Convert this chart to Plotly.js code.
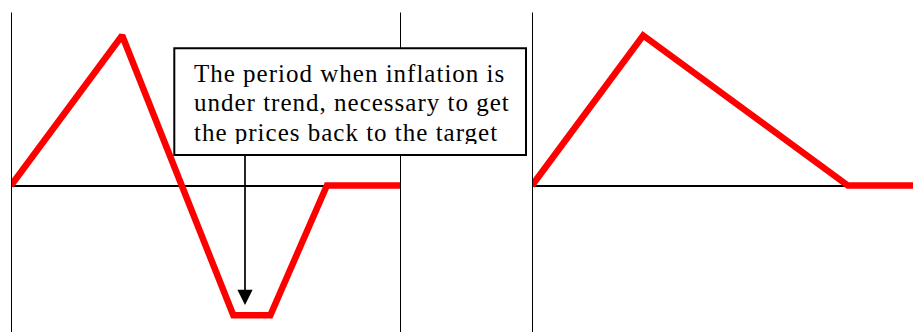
<!DOCTYPE html>
<html>
<head>
<meta charset="utf-8">
<script src="https://cdn.plot.ly/plotly-3.0.1.min.js"></script>
<style>
  html, body { margin: 0; padding: 0; background: #ffffff; }
  #chart { width: 913px; height: 332px; }
  .annotation-text { letter-spacing: 1px; }
</style>
</head>
<body>
<div id="chart"></div>
<script>
// ---- data ----
const leftTime = [0, 2.85, 5.7, 6.65, 8.1, 10];
const leftInflation = [0, 10, -8.65, -8.65, 0, 0];
const rightTime = [0, 2.85, 8.1, 10];
const rightInflation = [0, 10, 0, 0];
const noteLines = [
  "The period when inflation is",
  "under trend, necessary to get",
  "the prices back to the target"
];
const arrowTime = 6.0;
const arrowValue = -7.97;

// ---- layout helpers (pixel -> paper) ----
const W = 913, H = 332;
const px = v => v / W;
const py = v => 1 - v / H;

const yRange = [-(H - 185.5) / 15, 185.5 / 15];
const lineStyle = { color: '#ff0000', width: 6.5 };

const traces = [
  { x: leftTime, y: leftInflation, xaxis: 'x', yaxis: 'y', mode: 'lines',
    line: lineStyle, hoverinfo: 'skip', showlegend: false },
  { x: rightTime, y: rightInflation, xaxis: 'x2', yaxis: 'y2', mode: 'lines',
    line: lineStyle, hoverinfo: 'skip', showlegend: false }
];

const axisCommon = { showgrid: false, showticklabels: false, ticks: '', showline: false, fixedrange: true };

const textFont = { family: 'Liberation Serif, Times New Roman, serif', size: 25, color: '#000000' };
const baseTops = [59.7, 89.2, 118.9];

const annotations = noteLines.map((t, i) => {
  const a = {
    xref: 'paper', yref: 'paper', x: px(194), y: py(baseTops[i]),
    xanchor: 'left', yanchor: 'top', align: 'left', valign: 'top',
    text: t, showarrow: false, font: textFont, borderpad: 0, borderwidth: 0
  };
  if (i === 2) { a.height = 24.9; }
  return a;
});
annotations.push({
  xref: 'x', yref: 'y', x: arrowTime, y: arrowValue, ax: 0, ay: -150,
  text: ' ', font: { size: 1 }, borderpad: 0, showarrow: true,
  arrowhead: 2, arrowsize: 1.8, arrowwidth: 1.7, arrowcolor: '#000000', standoff: 0
});

const blk = { color: '#000000', width: 2 };
const shapes = [
  { type: 'line', xref: 'x', yref: 'paper', x0: 0, x1: 0, y0: 0, y1: py(12.5), line: blk, layer: 'above' },
  { type: 'line', xref: 'x', yref: 'paper', x0: 10, x1: 10, y0: 0, y1: py(12.5), line: blk, layer: 'above' },
  { type: 'line', xref: 'x2', yref: 'paper', x0: 0, x1: 0, y0: 0, y1: py(12.5), line: blk, layer: 'above' },
  { type: 'rect', xref: 'paper', yref: 'paper', x0: px(174.3), x1: px(526), y0: py(155), y1: py(48.3),
    line: blk, fillcolor: '#ffffff', layer: 'above' }
];

const layout = {
  width: W, height: H,
  margin: { l: 0, r: 0, t: 0, b: 0, pad: 0 },
  paper_bgcolor: '#ffffff', plot_bgcolor: 'rgba(0,0,0,0)',
  showlegend: false,
  xaxis: Object.assign({}, axisCommon, { domain: [px(11), px(401)], range: [0, 10], zeroline: false, anchor: 'y' }),
  xaxis2: Object.assign({}, axisCommon, { domain: [px(532), 1], range: [0, 381 / 39], zeroline: false, anchor: 'y2' }),
  yaxis: Object.assign({}, axisCommon, { domain: [0, 1], range: yRange, anchor: 'x',
    zeroline: true, zerolinecolor: '#000000', zerolinewidth: 2 }),
  yaxis2: Object.assign({}, axisCommon, { domain: [0, 1], range: yRange, anchor: 'x2',
    zeroline: true, zerolinecolor: '#000000', zerolinewidth: 2 }),
  shapes: shapes,
  annotations: annotations
};

Plotly.newPlot('chart', traces, layout, { staticPlot: true, displayModeBar: false });
</script>
</body>
</html>
